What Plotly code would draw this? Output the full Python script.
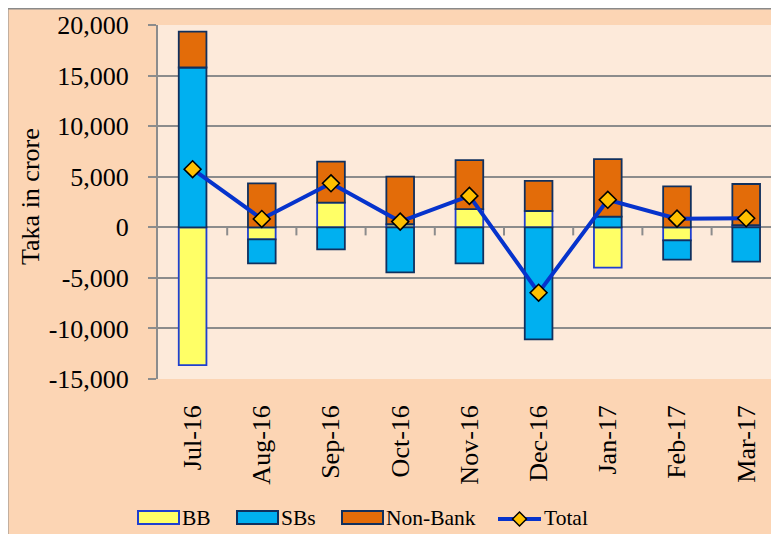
import plotly.graph_objects as go

months = ["Jul-16", "Aug-16", "Sep-16", "Oct-16", "Nov-16", "Dec-16", "Jan-17", "Feb-17", "Mar-17"]
bb = [-13620, -1190, 2430, 300, 1800, 1610, -3990, -1300, 200]
sbs = [15800, -2370, -2180, -4450, -3560, -11080, 1050, -1900, -3400]
non_bank = [3550, 4350, 4060, 4710, 4850, 2970, 5680, 4050, 4080]
total = [5740, 820, 4350, 560, 3100, -6470, 2720, 850, 890]

series_names = ["BB", "SBs", "Non-Bank", "Total"]
y_ticks = [-15000, -10000, -5000, 0, 5000, 10000, 15000, 20000]
y_tick_labels = ["-15,000", "-10,000", "-5,000", "0", "5,000", "10,000", "15,000", "20,000"]

FONT = "Liberation Serif, Times New Roman, serif"
fills = ["#FFFF66", "#00B0F0", "#E36C09"]
outlines = ["#1F3FD0", "#10305E", "#10305E"]
LINE_C = "#0633CC"
GRID_C = "#8C8C8C"

OFF = 8  # white page margin at left / top
W, H = 771 - OFF, 534 - OFF
# plot area in window pixels: x 158..771 (last category runs past the edge), y 25..379
L, T, R = 158 - OFF, 25 - OFF, 0
B = H - (379 - OFF)
PW, PH = W - L - R, H - T - B
CAT_W = 69.2

def px(x):  # window px -> paper x
    return (x - OFF - L) / PW

def py(y):  # window px -> paper y
    return (H - B - (y - OFF)) / PH

fig = go.Figure()
for name, vals, fc, oc in zip(series_names[:3], [bb, sbs, non_bank], fills, outlines):
    fig.add_trace(go.Bar(
        x=list(range(len(months))), y=vals, name=name,
        marker=dict(color=fc, line=dict(color=oc, width=1.8)),
        width=0.4, showlegend=False,
    ))
fig.add_trace(go.Scatter(
    x=list(range(len(months))), y=total, name="Total", mode="lines+markers",
    line=dict(color=LINE_C, width=4),
    marker=dict(symbol="diamond", size=13, color="#FFC000", line=dict(color="black", width=1.6)),
    showlegend=False,
))

shapes = []
# outer frame
shapes.append(dict(type="rect", xref="paper", yref="paper", x0=px(7.5), x1=px(800), y0=py(560), y1=py(8.5),
                   fillcolor="rgba(0,0,0,0)", line=dict(color="#8A8A8A", width=2), layer="below"))
# category tick marks at zero line
for i in range(len(months)):
    shapes.append(dict(type="line", xref="x", yref="y", x0=i + 0.5, x1=i + 0.5, y0=0, y1=-800,
                       line=dict(color=GRID_C, width=2)))

annotations = []
annotations.append(dict(text="Taka in crore", xref="paper", yref="paper", x=px(30), y=py(197),
                        xanchor="center", yanchor="middle", textangle=-90, showarrow=False,
                        font=dict(family=FONT, size=26, color="black")))

# custom legend
box_x = [138, 237, 342]
ly0, ly1 = py(524), py(511)
for name, fc, oc, bx in zip(series_names[:3], fills, outlines, box_x):
    shapes.append(dict(type="rect", xref="paper", yref="paper", x0=px(bx), x1=px(bx + 41), y0=ly0, y1=ly1,
                       fillcolor=fc, line=dict(color=oc, width=2)))
    annotations.append(dict(text=name, xref="paper", yref="paper", x=px(bx + 42), y=py(518),
                            xanchor="left", yanchor="middle", showarrow=False,
                            font=dict(family=FONT, size=21.5, color="black")))
lc = py(519)
shapes.append(dict(type="line", xref="paper", yref="paper", x0=px(498), x1=px(541), y0=lc, y1=lc,
                   line=dict(color=LINE_C, width=4)))
dx, dy = 7 / PW, 7 / PH
cx = px(519.5)
shapes.append(dict(type="path", xref="paper", yref="paper",
                   path=f"M {cx - dx} {lc} L {cx} {lc + dy} L {cx + dx} {lc} L {cx} {lc - dy} Z",
                   fillcolor="#FFC000", line=dict(color="black", width=1.5)))
annotations.append(dict(text=series_names[3], xref="paper", yref="paper", x=px(542), y=py(518),
                        xanchor="left", yanchor="middle", showarrow=False,
                        font=dict(family=FONT, size=21.5, color="black")))

fig.update_layout(
    width=W, height=H, margin=dict(l=L, r=R, t=T, b=B, pad=0),
    paper_bgcolor="#FCD5B4", plot_bgcolor="#FDEADA",
    barmode="relative", font=dict(family=FONT, color="black"),
    shapes=shapes, annotations=annotations, showlegend=False,
)
fig.update_xaxes(
    tickmode="array", tickvals=list(range(len(months))), ticktext=months,
    range=[-0.5, -0.5 + PW / CAT_W], tickangle=-90, showgrid=False, showline=False, zeroline=False,
    ticks="", ticklabelstandoff=20, tickfont=dict(family=FONT, size=26, color="black"),
)
fig.update_yaxes(
    range=[-15000, 20000], tickmode="array", tickvals=y_ticks, ticktext=y_tick_labels,
    showgrid=True, gridcolor=GRID_C, gridwidth=2,
    zeroline=True, zerolinecolor=GRID_C, zerolinewidth=2,
    showline=True, linecolor=GRID_C, linewidth=2, ticks="outside", ticklen=8, tickcolor=GRID_C, tickwidth=2,
    ticklabelstandoff=14, tickfont=dict(family=FONT, size=26, color="black"),
)

fig.write_html(
    "out.html",
    post_script="document.body.style.margin='8px 0 0 8px';document.documentElement.style.overflow='hidden';document.body.style.overflow='hidden';",
)
